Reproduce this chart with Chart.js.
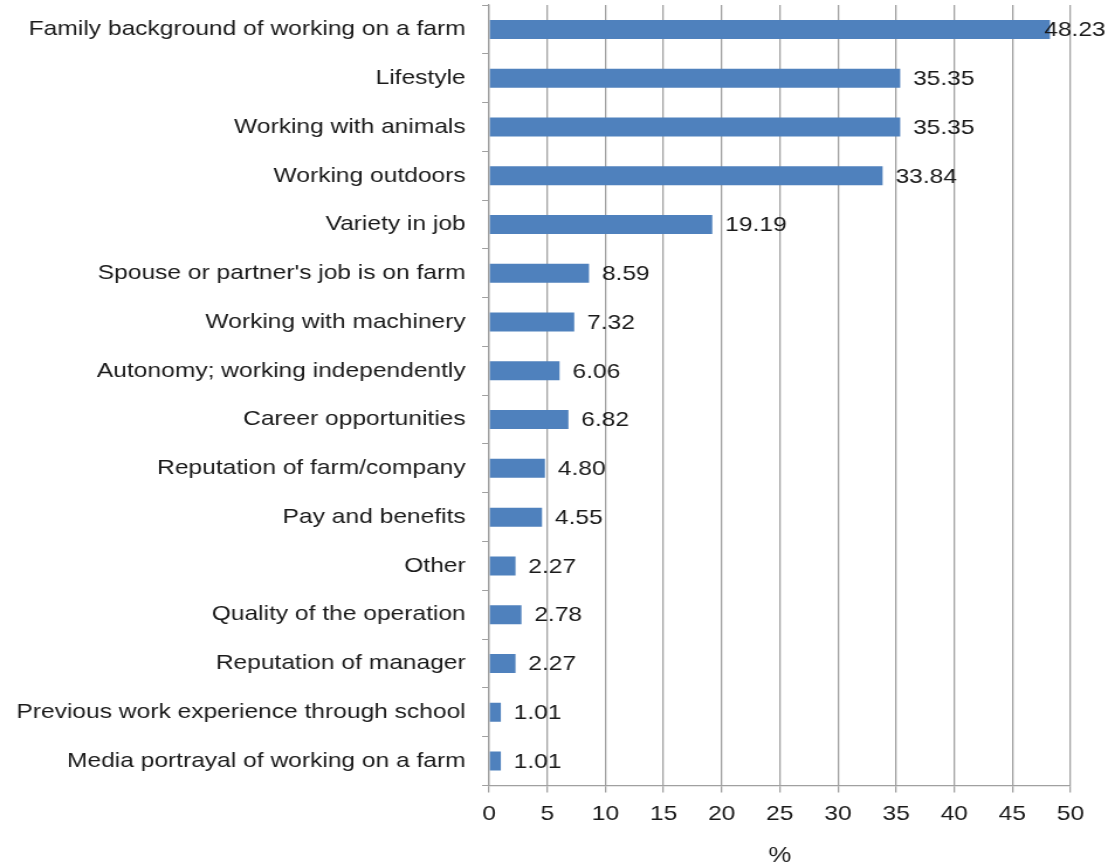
<!DOCTYPE html>
<html>
<head>
<meta charset="utf-8">
<script src="https://cdn.jsdelivr.net/npm/chart.js@4"></script>
<style>
  html, body { margin: 0; padding: 0; background: #fff; }
  /* the reference is stretched sideways a little, so the canvas is too */
  #myChart { width: 1115px !important; height: 863px !important; display: block; }
</style>
</head>
<body>
<canvas id="myChart" width="953" height="863"></canvas>
<script>
// Reasons for working on a farm (%)
const categories = [
    "Family background of working on a farm",
    "Lifestyle",
    "Working with animals",
    "Working outdoors",
    "Variety in job",
    "Spouse or partner's job is on farm",
    "Working with machinery",
    "Autonomy; working independently",
    "Career opportunities",
    "Reputation of farm/company",
    "Pay and benefits",
    "Other",
    "Quality of the operation",
    "Reputation of manager",
    "Previous work experience through school",
    "Media portrayal of working on a farm"
];
const percents = [48.23, 35.35, 35.35, 33.84, 19.19, 8.59, 7.32, 6.06, 6.82, 4.80, 4.55, 2.27, 2.78, 2.27, 1.01, 1.01];
const xTicks = [0, 5, 10, 15, 20, 25, 30, 35, 40, 45, 50];

const FONT = "'Liberation Sans', Arial, sans-serif";

// value labels at the end of each bar
const valueLabels = {
    id: 'valueLabels',
    afterDatasetsDraw(chart) {
        const ctx = chart.ctx;
        const meta = chart.getDatasetMeta(0);
        ctx.save();
        ctx.font = "21px " + FONT;
        ctx.fillStyle = "#1a1a1a";
        ctx.textBaseline = "middle";
        meta.data.forEach(function(bar, i) {
            const txt = percents[i].toFixed(2);
            const w = ctx.measureText(txt).width;
            let x = bar.x + 11;
            if (x + w > chart.width - 8) x = chart.width - 8 - w;
            ctx.fillText(txt, x, bar.y + 1);
        });
        ctx.restore();
    }
};

const data = {
    labels: categories,
    datasets: [{
        data: percents,
        backgroundColor: "#4F81BD",
        borderWidth: 0,
        categoryPercentage: 1,
        barPercentage: 0.39
    }]
};

const config = {
    type: 'bar',
    data: data,
    plugins: [valueLabels],
    options: {
        indexAxis: 'y',
        responsive: false,
        animation: false,
        devicePixelRatio: 1,
        layout: { padding: { top: 5, right: 38, left: 0, bottom: 0 } },
        plugins: {
            legend: { display: false },
            tooltip: { enabled: false }
        },
        scales: {
            x: {
                min: 0,
                max: 50,
                afterBuildTicks(axis) { axis.ticks = xTicks.map(v => ({ value: v })); },
                grid: { color: "#a0a0a0", lineWidth: 1.3, tickLength: 7 },
                border: { color: "#a0a0a0", width: 1.3 },
                ticks: { color: "#1a1a1a", font: { family: FONT, size: 21 }, padding: 9 },
                title: { display: true, text: '%', color: "#1a1a1a", font: { family: FONT, size: 22 }, padding: { top: 7, bottom: -6 } }
            },
            y: {
                afterFit(axis) { axis.paddingTop = 0; axis.paddingBottom = 0; },
                grid: { offset: true, drawOnChartArea: false, color: "#a0a0a0", tickLength: 6 },
                border: { color: "#a0a0a0", width: 1.3 },
                ticks: { color: "#1a1a1a", font: { family: FONT, size: 21 }, padding: 14, autoSkip: false }
            }
        }
    }
};

const myChart = new Chart(document.getElementById('myChart'), config);
</script>
</body>
</html>
